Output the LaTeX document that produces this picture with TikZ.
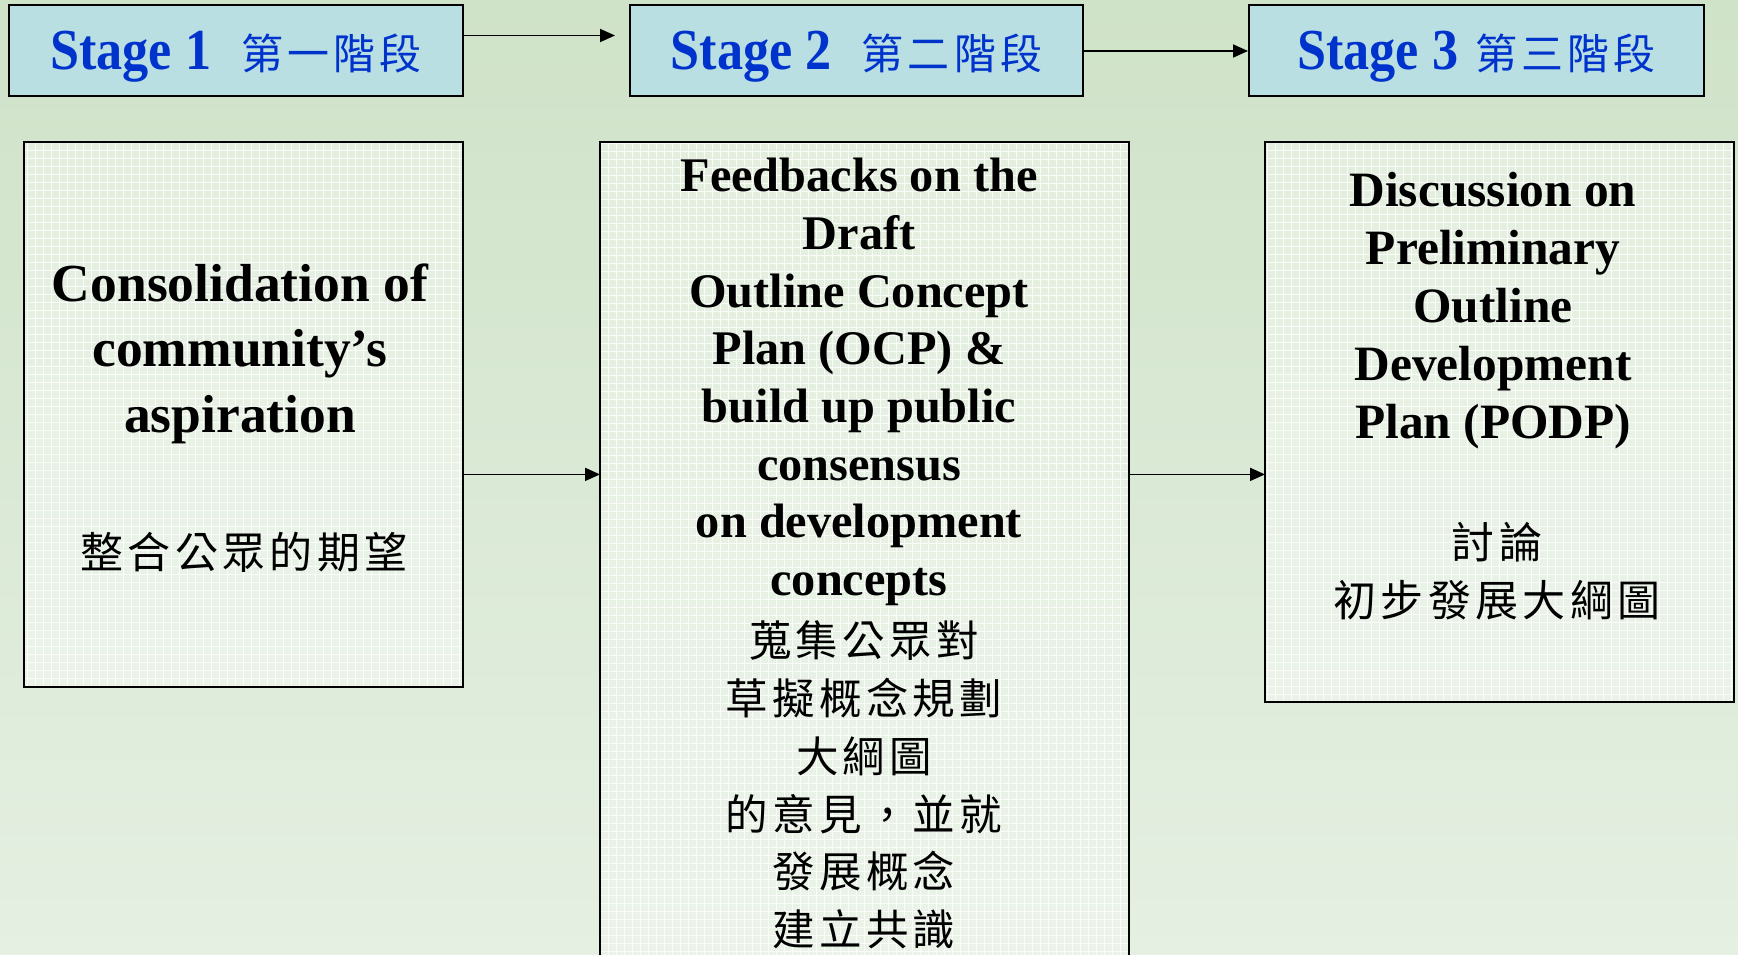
\documentclass[tikz,border=0pt]{standalone}
\usepackage{fontspec}
\usepackage{graphicx}
\setmainfont{Liberation Serif}
\newfontfamily\cjk[LetterSpace=10]{Noto Sans CJK TC}
\usetikzlibrary{arrows.meta}
\definecolor{bgtop}{HTML}{CFE3C8}
\definecolor{bgbot}{HTML}{E5EFE2}
\definecolor{hdrfill}{HTML}{B9DFE2}
\definecolor{boxtop}{HTML}{E3EEDE}
\definecolor{boxbot}{HTML}{EBF3E9}
\definecolor{stageblue}{HTML}{0033CC}
\tikzset{
  hdr/.style={draw=black, line width=2pt, fill=hdrfill, inner sep=0pt, minimum height=91pt,
    text=stageblue, text height=46pt, text depth=8pt},
  panel/.style={draw=black, line width=1.8pt, top color=boxtop, bottom color=boxbot,
    inner sep=0pt, outer sep=0pt,
    path picture={\draw[white, line width=0.9pt, opacity=0.8]
      (path picture bounding box.south west) grid[step=8pt] (path picture bounding box.north east);}},
  arr/.style={line width=1.8pt, -{Triangle[length=15pt,width=13pt]}},
  en/.style={align=center, inner sep=0pt},
  zh/.style={align=center, inner sep=0pt},
}
\newcommand{\stagefont}{\fontsize{58}{60}\selectfont\bfseries}
\newcommand{\stagecjk}{\fontsize{42}{50}\selectfont\cjk}
\newcommand{\stagetext}[1]{\scalebox{0.9}[1]{\stagefont #1}}
\begin{document}
\begin{tikzpicture}[x=1pt,y=-1pt]
\useasboundingbox (0,0) rectangle (1738,955);
\shade[top color=bgtop, bottom color=bgbot] (0,0) rectangle (1738,955);

% headers
\node[hdr, minimum width=454pt] (S1) at (236,51) {\stagetext{Stage 1}\hspace{30pt}{\stagecjk 第一階段}};
\node[hdr, minimum width=453pt] (S2) at (856.5,51) {\stagetext{Stage 2}\hspace{30pt}{\stagecjk 第二階段}};
\node[hdr, minimum width=455pt] (S3) at (1476.5,51) {\stagetext{Stage 3}\hspace{17pt}{\stagecjk 第三階段}};

% panels
\node[panel, minimum width=439pt, minimum height=545pt] (B1) at (243.5,414.5) {};
\node[panel, minimum width=529pt, minimum height=818pt] (B2) at (864.5,551) {};
\node[panel, minimum width=469pt, minimum height=560pt] (B3) at (1499.5,422) {};

% panel texts
\node[en, font={\fontsize{53.5}{65.5}\selectfont\bfseries}] (t1) at (240,353.5)
  {Consolidation of\\community’s\\aspiration};
\node[zh, font={\fontsize{43}{58}\selectfont\cjk}] (c1) at (244,552) {整合公眾的期望};

\node[en, font={\fontsize{48.3}{57.7}\selectfont\bfseries}] (t2) at (859,382)
  {Feedbacks on the\\Draft\\Outline Concept\\Plan (OCP) \&\\build up public\\consensus\\on development\\concepts};
\node[zh, font={\fontsize{42.5}{57.8}\selectfont\cjk}] (c2) at (864,785)
  {蒐集公眾對\\草擬概念規劃\\大綱圖\\的意見，並就\\發展概念\\建立共識};

\node[en, font={\fontsize{49.4}{57.9}\selectfont\bfseries}] (t3) at (1493,310.5)
  {Discussion on\\Preliminary\\Outline\\Development\\Plan (PODP)};
\node[zh, font={\fontsize{43}{58}\selectfont\cjk}] (c3) at (1497,571)
  {討論\\初步發展大綱圖};

% connectors
\coordinate (a1end) at (615,35.5);
\coordinate (mid) at (0,474.4);
\draw[arr] (S1.east |- a1end) -- (a1end);
\draw[arr] (S2.east) -- (S3.west);
\draw[arr] (B1.east |- mid) -- (B2.west |- mid);
\draw[arr] (B2.east |- mid) -- (B3.west |- mid);
\end{tikzpicture}
\end{document}
